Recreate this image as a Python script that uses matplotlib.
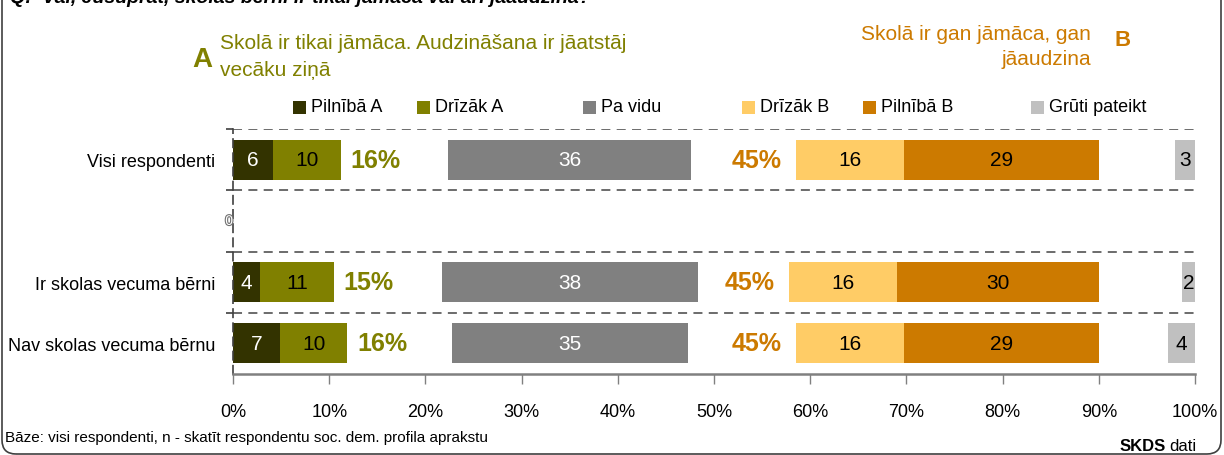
import matplotlib
matplotlib.use("Agg")
import matplotlib.pyplot as plt
import matplotlib.patheffects as pe
from matplotlib.patches import FancyBboxPatch, Rectangle
from matplotlib.transforms import IdentityTransform

plt.rcParams["font.family"] = ["Liberation Sans Narrow", "Liberation Sans", "DejaVu Sans"]

# ── data ────────────────────────────────────────────────────────────────
categories = ["Visi respondenti", "Ir skolas vecuma bērni", "Nav skolas vecuma bērnu"]
row_pos = [0, 2, 3]          # row 1 is an empty spacer row in the original
pilniba_a = [6, 4, 7]
drizak_a = [10, 11, 10]
pa_vidu = [36, 38, 35]
drizak_b = [16, 16, 16]
pilniba_b = [29, 30, 29]
gruti = [3, 2, 4]
total_a = [16, 15, 16]
total_b = [45, 45, 45]

series_names = ["Pilnībā A", "Drīzāk A", "Pa vidu", "Drīzāk B", "Pilnībā B", "Grūti pateikt"]
xticks = list(range(0, 101, 10))

# ── style ───────────────────────────────────────────────────────────────
C_DARK = "#333300"
C_OLIVE = "#808000"
C_GRAY = "#808080"
C_LORANGE = "#FFCC66"
C_ORANGE = "#CC7A00"
C_LGRAY = "#C0C0C0"
colors = [C_DARK, C_OLIVE, C_GRAY, C_LORANGE, C_ORANGE, C_LGRAY]
label_colors = ["white", "black", "white", "black", "black", "black"]

SCALE = 0.7        # axis units per respondent percent
VIDU_CENTER = 35   # "Pa vidu" block centred here
B_END = 90         # B block ends here
BAR_H = 0.65

W, H = 1224, 456
fig = plt.figure(figsize=(W / 100, H / 100), dpi=100)


def fx(px):
    return px / W


def fy(py):
    return 1 - py / H


ax = fig.add_axes([fx(233), fy(375), fx(1195) - fx(233), fy(130) - fy(375)])

for i, y in enumerate(row_pos):
    vals = [pilniba_a[i], drizak_a[i], pa_vidu[i], drizak_b[i], pilniba_b[i], gruti[i]]
    w = [v * SCALE for v in vals]
    lefts = [0, w[0], VIDU_CENTER - w[2] / 2,
             B_END - w[4] - w[3], B_END - w[4], 100 - w[5]]
    for k in range(6):
        ax.barh(y, w[k], left=lefts[k], height=BAR_H, color=colors[k], linewidth=0)
        ax.text(lefts[k] + w[k] / 2, y, str(vals[k]), ha="center", va="center",
                fontsize=15, color=label_colors[k])
    ax.text(w[0] + w[1] + 1.0, y, f"{total_a[i]}%", ha="left", va="center",
            fontsize=18, fontweight="bold", color=C_OLIVE)
    ax.text(lefts[3] - 1.5, y, f"{total_b[i]}%", ha="right", va="center",
            fontsize=18, fontweight="bold", color=C_ORANGE)

# hollow zero label on the empty row
ax.text(-0.4, 1, "0", ha="center", va="center", fontsize=10, color="white",
        path_effects=[pe.withStroke(linewidth=1.6, foreground="#707070")])

for sep in [-0.5, 0.5, 1.5, 2.5]:
    ax.axhline(sep, color="#606060", lw=1.3, ls=(0, (5, 3.5)), zorder=0)

ax.set_xlim(0, 100)
ax.set_ylim(3.5, -0.5)
ax.set_xticks(xticks)
ax.set_xticklabels([f"{t}%" for t in xticks], fontsize=13)
ax.tick_params(axis="x", length=7, color="#808080", width=1, pad=14)
ax.set_yticks(row_pos)
ax.set_yticklabels(categories, fontsize=13)
ax.set_yticks([-0.5, 0.5, 1.5, 2.5], minor=True)
ax.tick_params(axis="y", which="major", length=0, pad=13)
ax.tick_params(axis="y", which="minor", length=5, color="#404040", width=1.2)
for s in ["top", "right"]:
    ax.spines[s].set_visible(False)
ax.spines["bottom"].set_color("#808080")
ax.spines["bottom"].set_linewidth(1.8)
ax.spines["left"].set_linestyle((0, (5, 3.5)))
ax.spines["left"].set_color("#404040")
ax.spines["left"].set_linewidth(1.2)

# ── legend (manual placement) ───────────────────────────────────────────
leg_x = [293, 417, 583, 742, 863, 1031]
for name, c, x in zip(series_names, colors, leg_x):
    fig.patches.append(Rectangle((fx(x), fy(115)), fx(13), 13 / H,
                                 transform=fig.transFigure, color=c, linewidth=0))
    fig.text(fx(x + 18), fy(108), name, ha="left", va="center", fontsize=13)

# ── titles / annotations ───────────────────────────────────────────────
fig.text(fx(10), fy(3), "Q:  Vai, Jūsuprāt, skolās bērni ir tikai jāmāca vai arī jāaudzina?",
         ha="left", va="baseline", fontsize=14, fontweight="bold", style="italic")
fig.text(fx(192), fy(60), "A", ha="left", va="center", fontsize=20,
         fontweight="bold", color=C_OLIVE)
fig.text(fx(220), fy(57), "Skolā ir tikai jāmāca. Audzināšana ir jāatstāj\nvecāku ziņā",
         ha="left", va="center", fontsize=15, color=C_OLIVE, linespacing=1.5)
fig.text(fx(1091), fy(47), "Skolā ir gan jāmāca, gan\njāaudzina",
         ha="right", va="center", fontsize=15, color=C_ORANGE, linespacing=1.45,
         multialignment="right")
fig.text(fx(1115), fy(40), "B", ha="left", va="center", fontsize=16,
         fontweight="bold", color=C_ORANGE)

fig.text(fx(5), fy(438), "Bāze: visi respondenti, n - skatīt respondentu soc. dem. profila aprakstu",
         ha="left", va="center", fontsize=11)
fig.text(fx(1120), fy(447), "SKDS", ha="left", va="center", fontsize=12, fontweight="bold")
fig.text(fx(1169), fy(447), "dati", ha="left", va="center", fontsize=12)

# rounded outer frame
frame = FancyBboxPatch((2, 1), 1219, 480, boxstyle="round,pad=0,rounding_size=14",
                       transform=IdentityTransform(), fill=False,
                       edgecolor="#404040", linewidth=1.2)
fig.patches.append(frame)

fig.savefig("out.png", dpi=100)
